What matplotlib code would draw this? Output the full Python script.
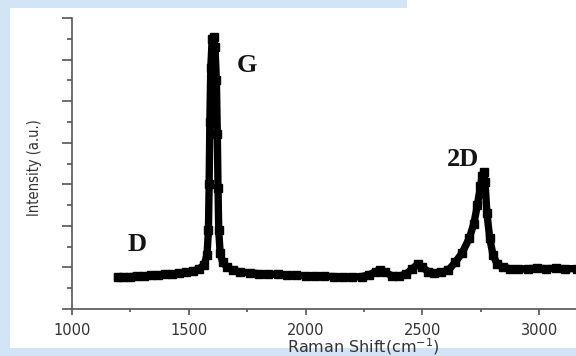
import matplotlib
matplotlib.use("Agg")
import matplotlib.pyplot as plt
from matplotlib.patches import Rectangle
from matplotlib.ticker import MultipleLocator

# Raman spectrum (shift in cm-1, intensity in axis units)
shift = [1195, 1220, 1250, 1280, 1310, 1340, 1370, 1400, 1430, 1460, 1490, 1520,
         1545, 1565, 1578, 1584, 1587, 1590, 1594, 1600, 1606, 1612, 1618, 1622,
         1625, 1628, 1634, 1645, 1665, 1690, 1720, 1760, 1800, 1840, 1880, 1920,
         1960, 2000, 2040, 2080, 2120, 2160, 2200, 2240, 2270, 2300, 2320, 2340,
         2370, 2400, 2430, 2455, 2480, 2500, 2525, 2550, 2580, 2610, 2640, 2670,
         2700, 2720, 2735, 2748, 2756, 2762, 2768, 2776, 2788, 2802, 2820, 2845,
         2875, 2910, 2950, 2990, 3030, 3070, 3110, 3160]
intensity = [0.76, 0.76, 0.78, 0.79, 0.80, 0.81, 0.82, 0.83, 0.84, 0.86, 0.88, 0.92,
             0.97, 1.06, 1.3, 1.9, 3.0, 4.5, 5.8, 6.5, 6.55, 6.3, 5.5, 4.2,
             2.9, 1.9, 1.35, 1.12, 1.0, 0.93, 0.89, 0.87, 0.85, 0.84, 0.83, 0.82,
             0.81, 0.80, 0.80, 0.79, 0.78, 0.77, 0.77, 0.78, 0.82, 0.90, 0.95, 0.88,
             0.80, 0.79, 0.84, 0.96, 1.08, 1.0, 0.90, 0.87, 0.88, 0.93, 1.12, 1.35,
             1.7, 2.05, 2.5, 2.95, 3.2, 3.3, 3.05, 2.3, 1.7, 1.3, 1.08, 1.0,
             0.97, 0.96, 0.97, 0.98, 0.97, 0.98, 0.97, 0.97]

xticks = [1000, 1500, 2000, 2500, 3000]
peak_labels = ["D", "G", "2D"]
peak_pos = [(1280, 1.55), (1750, 5.85), (2675, 3.6)]

fig = plt.figure(figsize=(5.76, 3.56), dpi=100, facecolor="#d3e4f7")
# white slide panel over the blue background
fig.patches.append(Rectangle((10 / 576, 8 / 356), 1, 340 / 356, transform=fig.transFigure,
                             facecolor="white", edgecolor="none", zorder=-10))
fig.patches.append(Rectangle((407 / 576, 0.9), 1, 0.2, transform=fig.transFigure,
                             facecolor="white", edgecolor="none", zorder=-10))

ax = fig.add_axes([72 / 576, 47 / 356, 514 / 576, 291 / 356])
ax.set_facecolor("none")
ax.plot(shift, intensity, color="black", lw=5.3, marker="s", ms=5.2,
        solid_joinstyle="bevel", clip_on=False)

ax.set_xlim(1000, 3200)
ax.set_ylim(0, 7)
for s in ["top", "right"]:
    ax.spines[s].set_visible(False)
for s in ["left", "bottom"]:
    ax.spines[s].set_color("#555555")
    ax.spines[s].set_linewidth(1.2)

ax.set_xticks(xticks)
ax.xaxis.set_minor_locator(MultipleLocator(250))
ax.yaxis.set_major_locator(MultipleLocator(1))
ax.yaxis.set_minor_locator(MultipleLocator(0.5))
ax.set_yticklabels([])
ax.tick_params(axis="x", which="major", direction="out", length=4, width=1.2,
               color="#555555", labelsize=10.5, labelcolor="#333333", pad=6)
ax.tick_params(axis="x", which="minor", direction="out", length=2, width=1.2, color="#555555")
ax.tick_params(axis="y", which="major", direction="out", length=7, width=1.2, color="#555555")
ax.tick_params(axis="y", which="minor", direction="out", length=3.5, width=1.2, color="#555555")

for lab, (px, py) in zip(peak_labels, peak_pos):
    ax.text(px, py, lab, family="Liberation Serif", weight="bold", fontsize=19,
            color="#141414", ha="center", va="center")

fig.text(363 / 576, 1 - 347 / 356, "Raman Shift(cm$^{-1}$)", ha="center", va="center",
         fontsize=11.5, color="#333333")
fig.text(34 / 576, 1 - 168 / 356, "Intensity (a.u.)", rotation=90, ha="center", va="center",
         fontsize=10.5, color="#333333", family="DejaVu Sans", fontstretch="condensed")

fig.savefig("out.png", dpi=100, facecolor=fig.get_facecolor())
